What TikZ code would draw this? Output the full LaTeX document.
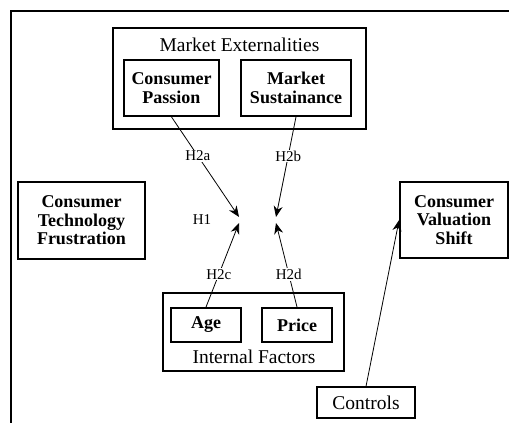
\documentclass[tikz,border=0pt]{standalone}
\usepackage{fontspec}
\setmainfont{Liberation Serif}
\usetikzlibrary{arrows.meta,positioning}

\tikzstyle{factor} = [rectangle, draw=black, line width=1.8pt, align=center, text centered, inner sep=2pt, font=\fontsize{18}{18.5}\selectfont\bfseries]
\tikzstyle{group} = [rectangle, draw=black, line width=1.8pt]
\tikzstyle{grouptitle} = [font=\fontsize{19.5}{20}\selectfont]
\tikzstyle{hyp} = [line width=0.8pt, -{Stealth[length=11pt,width=9pt]}]
\tikzstyle{hlabel} = [fill=white, inner sep=1pt, font=\fontsize{15}{15}\selectfont]

\begin{document}
\begin{tikzpicture}[x=1pt, y=-1pt]
        \useasboundingbox (0,0) rectangle (509,423);
        \draw [line width=2pt] (11,423) -- (11,11) -- (509,11);

        % market externalities
        \node (mext) [group, minimum width=253, minimum height=101] at (239.5,78.5) {};
        \node (mexttitle) [grouptitle] at (239.5,45) {Market Externalities};
        \node (passion) [factor, minimum width=95, minimum height=56] at (171.5,88) {Consumer\\Passion};
        \node (sustain) [factor, minimum width=110, minimum height=56] at (296,88) {Market\\Sustainance};

        \node (ctf) [factor, minimum width=127, minimum height=77] at (81.5,220.5) {Consumer\\Technology\\Frustration};
        \node (cvs) [factor, minimum width=108, minimum height=76] at (454,220) {Consumer\\Valuation\\Shift};

        % internal factors
        \node (intf) [group, minimum width=181, minimum height=78] at (253.5,332) {};
        \node (age) [factor, minimum width=70, minimum height=34] at (206,325) {Age};
        \node (price) [factor, minimum width=70, minimum height=34] at (297,325) {Price};
        \node (intftitle) [grouptitle] at (254,357) {Internal Factors};

        \node (controls) [rectangle, draw=black, line width=1.2pt, minimum width=98, minimum height=31, grouptitle] at (366,402.5) {Controls};

        \node (h1) [hlabel] at (202,220) {H1};
        \coordinate (tipa) at (239,217);
        \coordinate (tipb) at (276,217);
        \coordinate (tipc) at (239,223);
        \coordinate (tipd) at (276,223);

        \draw [hyp] (passion.south) -- node[hlabel, pos=0.39] {H2a} (tipa);
        \draw [hyp] (sustain.south) -- node[hlabel, pos=0.39] {H2b} (tipb);
        \draw [hyp] (age.north) -- node[hlabel, pos=0.39] {H2c} (tipc);
        \draw [hyp] (price.north) -- node[hlabel, pos=0.39] {H2d} (tipd);
        \draw [hyp] (controls.north) -- (cvs.west);
    \end{tikzpicture}
\end{document}
